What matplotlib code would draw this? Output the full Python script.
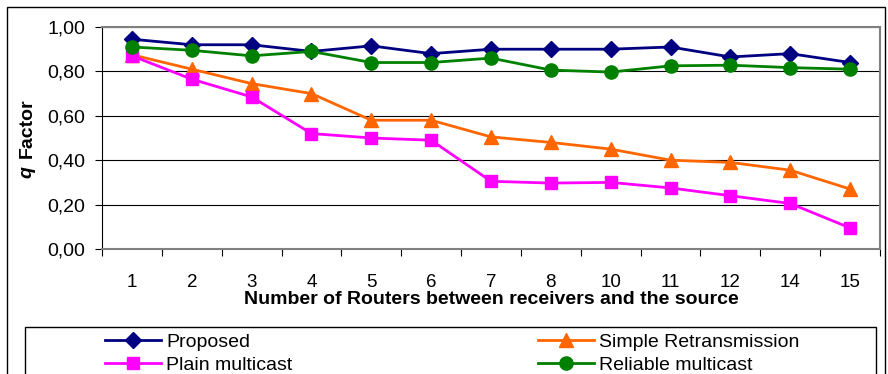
import numpy as np
import matplotlib.pyplot as plt
from matplotlib.ticker import FuncFormatter
from matplotlib.patches import Rectangle

plt.rcParams['font.family'] = ['Liberation Sans', 'DejaVu Sans']

# values
routers = ['1', '2', '3', '4', '5', '6', '7', '8', '10', '11', '12', '14', '15']
proposed = [0.945, 0.92, 0.92, 0.89, 0.915, 0.88, 0.90, 0.90, 0.90, 0.91, 0.865, 0.88, 0.84]
simple_retx = [0.875, 0.81, 0.745, 0.70, 0.58, 0.58, 0.505, 0.48, 0.45, 0.40, 0.39, 0.355, 0.27]
plain_mc = [0.87, 0.765, 0.685, 0.52, 0.50, 0.49, 0.305, 0.297, 0.30, 0.275, 0.24, 0.205, 0.095]
reliable_mc = [0.91, 0.895, 0.87, 0.89, 0.84, 0.84, 0.86, 0.806, 0.797, 0.825, 0.828, 0.817, 0.81]

fig = plt.figure(figsize=(8.88, 3.74), dpi=100)
ax = fig.add_axes([102 / 888, 1 - 249 / 374, 778 / 888, 222 / 374])

x = np.arange(len(routers))
l1, = ax.plot(x, proposed, '-D', color='#000080', lw=2, ms=8, label='Proposed')
l2, = ax.plot(x, simple_retx, '-^', color='#ff6600', lw=2, ms=10, label='Simple Retransmission')
l3, = ax.plot(x, plain_mc, '-s', color='#ff00ff', lw=2, ms=9, label='Plain multicast')
l4, = ax.plot(x, reliable_mc, '-o', color='#008000', lw=2, ms=9.5, label='Reliable multicast')

ax.set_xlim(-0.5, len(routers) - 0.5)
ax.set_ylim(0, 1.0)
ax.set_yticks(np.arange(0, 1.01, 0.2))
ax.yaxis.set_major_formatter(FuncFormatter(lambda v, p: f"{v:.2f}".replace('.', ',')))
ax.yaxis.grid(True, color='black', lw=0.8)
ax.set_axisbelow(True)

# category labels centred, tick marks between categories
ax.set_xticks(np.arange(-0.5, len(routers), 1.0))
ax.set_xticklabels([])
ax.set_xticks(x, minor=True)
ax.set_xticklabels(routers, minor=True)
ax.tick_params(axis='x', which='minor', length=0, labelsize=13.5, pad=18)
ax.tick_params(axis='x', which='major', length=5, direction='out')
ax.tick_params(axis='y', length=5, labelsize=14, pad=7)

for s in ['top', 'right', 'bottom']:
    ax.spines[s].set_color('#808080')
    ax.spines[s].set_linewidth(1.5)
ax.spines['left'].set_color('black')

ax.set_xlabel('Number of Routers between receivers and the source',
              fontsize=14, fontweight='bold', labelpad=0)
fig.text(27 / 888, 1 - 128 / 374, 'Factor', rotation=90, fontsize=14,
         fontweight='bold', ha='center', va='center')
fig.text(27 / 888, 1 - 172 / 374, 'q', rotation=90, fontsize=14,
         fontweight='bold', style='italic', ha='center', va='center')

# outer chart border and legend box
fig.patches.append(Rectangle((7 / 888, -0.05), 878 / 888, 1 - 7 / 374 + 0.05,
                             transform=fig.transFigure, fill=False,
                             edgecolor='black', lw=1))
fig.patches.append(Rectangle((25 / 888, -0.05), 851 / 888, 1 - 327 / 374 + 0.05,
                             transform=fig.transFigure, fill=False,
                             edgecolor='black', lw=1))

fig.legend([l1, l3, l2, l4],
           ['Proposed', 'Plain multicast', 'Simple Retransmission', 'Reliable multicast'],
           ncol=2, loc='upper left', bbox_to_anchor=(105 / 888, 1 - 333 / 374),
           frameon=False, fontsize=14, handlelength=2.9, handletextpad=0.25,
           columnspacing=12.6, labelspacing=0.3, borderpad=0, borderaxespad=0)

fig.savefig('out.png', dpi=100)
